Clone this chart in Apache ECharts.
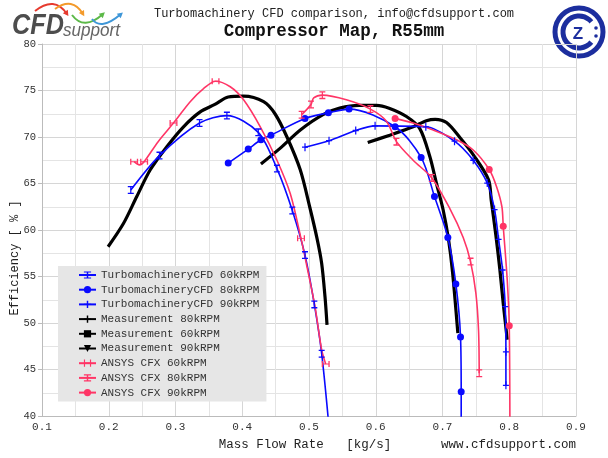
<!DOCTYPE html>
<html><head><meta charset="utf-8">
<script src="https://cdn.jsdelivr.net/npm/echarts@6/dist/echarts.min.js"></script>
<style>html,body{margin:0;padding:0;background:#fff}#c{width:608px;height:458px}</style>
</head><body><div id="c"></div>
<script>
// ---- Data ----
const xTickLabels = ['0.1','0.2','0.3','0.4','0.5','0.6','0.7','0.8','0.9'];
const yTickLabels = ['40','45','50','55','60','65','70','75','80'];

const cfd60X = [0.233,0.276,0.336,0.377,0.424,0.452,0.475,0.494,0.508,0.519,0.531];
const cfd60Y = [64.3,68.0,71.5,72.3,70.5,66.6,62.1,57.3,52.0,46.7,38.0];
const cfd60M = [1,1,1,1,1,1,1,1,1,1,0];

const cfd80X = [0.379,0.409,0.428,0.443,0.494,0.529,0.560,0.629,0.668,0.688,0.708,0.720,0.727,0.728,0.728];
const cfd80Y = [67.2,68.7,69.7,70.2,72.0,72.6,73.0,71.1,67.8,63.6,59.2,54.2,48.5,42.6,38.0];
const cfd80M = [1,1,1,1,1,1,1,1,1,1,1,1,1,1,0];

const cfd90X = [0.494,0.530,0.570,0.599,0.675,0.718,0.746,0.767,0.778,0.784,0.790,0.794,0.795,0.795];
const cfd90Y = [68.9,69.6,70.7,71.2,71.1,69.55,67.5,65.05,62.2,59.0,55.7,51.75,46.9,43.3];

const meas80X = [0.199,0.222,0.242,0.262,0.287,0.312,0.337,0.359,0.379,0.402,0.432,0.449,0.467,0.487,0.501,0.512,0.519,0.524,0.527];
const meas80Y = [58.2,60.7,63.6,66.45,68.96,71.1,72.7,73.5,74.3,74.4,73.8,72.5,70.0,66.45,62.5,59.1,56.4,52.8,49.8];

const meas60X = [0.428,0.457,0.487,0.521,0.546,0.575,0.601,0.620,0.646,0.666,0.681,0.691,0.701,0.709,0.715,0.723];
const meas60Y = [67.1,68.8,70.75,72.4,73.1,73.4,73.4,73.1,72.2,70.9,67.9,65.0,62.15,59.0,55.5,48.9];

const meas90X = [0.588,0.621,0.656,0.676,0.689,0.706,0.726,0.747,0.769,0.773,0.780,0.786,0.791,0.797];
const meas90Y = [69.4,70.2,71.1,71.75,71.9,71.55,69.95,68.0,65.4,63.2,59.4,55.7,52.1,48.2];

const cfx60X = [0.238,0.246,0.253,0.274,0.297,0.322,0.342,0.360,0.382,0.402,0.427,0.452,0.472,0.488,0.497,0.509,0.519,0.525];
const cfx60Y = [67.35,67.0,67.35,69.5,71.5,73.8,75.2,76.0,75.4,74.0,71.1,67.5,63.9,59.1,56.05,51.75,47.1,45.6];
const cfx60M = [1,0,1,0,1,0,0,1,0,0,0,0,0,1,0,0,0,1];

const cfx80X = [0.489,0.503,0.507,0.520,0.556,0.592,0.616,0.631,0.656,0.684,0.711,0.731,0.742,0.750,0.754,0.755];
const cfx80Y = [72.4,73.5,74.2,74.5,74.0,73.0,71.7,69.5,67.5,65.6,62.3,59.2,56.6,53.2,49.2,44.6];
const cfx80M = [1,1,0,1,0,1,0,1,0,1,0,0,1,0,0,1];

const cfx90X = [0.629,0.656,0.686,0.721,0.746,0.770,0.781,0.789,0.791,0.797,0.800,0.801];
const cfx90Y = [72.0,71.5,70.75,69.7,68.6,66.5,64.65,62.5,60.4,54.6,49.7,38.0];
const cfx90M = [1,0,0,0,0,1,0,0,1,0,1,0];

const seriesNames = [
  'TurbomachineryCFD 60kRPM','TurbomachineryCFD 80kRPM','TurbomachineryCFD 90kRPM',
  'Measurement 80kRPM','Measurement 60kRPM','Measurement 90kRPM',
  'ANSYS CFX 60kRPM','ANSYS CFX 80kRPM','ANSYS CFX 90kRPM'
];

// ---- Styling ----
const MONO = '"Liberation Mono","DejaVu Sans Mono",monospace';
const BLUE = '#0a0aff', RED = '#ff3566', BLACK = '#000000';
const symI = 'path://M0,0H8V1.6H4.8V8.4H8V10H0V8.4H3.2V1.6H0Z';
const symH = 'path://M0,0H1.6V4.2H8.4V0H10V10H8.4V5.8H1.6V10H0Z';
const symPlus = 'path://M4,0H6V10H4Z M0,4.2H10V5.8H0Z';
const symCross = 'path://M4,0H6V4H10V6H6V10H4V6H0V4H4Z';

function pts(xs, ys, ms) {
  return xs.map((x, i) => (ms && !ms[i]) ? { value: [x, ys[i]], symbol: 'none' } : [x, ys[i]]);
}
function ser(name, xs, ys, ms, color, width, symbol, size, extra) {
  return Object.assign({
    name, type: 'line', data: pts(xs, ys, ms), smooth: 0.3,
    symbol, symbolSize: size, showSymbol: true,
    lineStyle: { color, width }, itemStyle: { color },
    emphasis: { disabled: true }, z: 3, animation: false, clip: true
  }, extra || {});
}

const series = [
  ser(seriesNames[0], cfd60X, cfd60Y, cfd60M, BLUE, 1.6, symI, [6, 8]),
  ser(seriesNames[1], cfd80X, cfd80Y, cfd80M, BLUE, 1.6, 'circle', 7),
  ser(seriesNames[2], cfd90X, cfd90Y, null, BLUE, 1.6, symPlus, [6, 8]),
  ser(seriesNames[3], meas80X, meas80Y, null, BLACK, 3.2, symCross, 6, { showSymbol: false, z: 2 }),
  ser(seriesNames[4], meas60X, meas60Y, null, BLACK, 3.2, 'rect', 6, { showSymbol: false, z: 2 }),
  ser(seriesNames[5], meas90X, meas90Y, null, BLACK, 3.2, 'triangle', 6, { showSymbol: false, z: 2, symbolRotate: 180 }),
  ser(seriesNames[6], cfx60X, cfx60Y, cfx60M, RED, 1.6, symH, [8, 6]),
  ser(seriesNames[7], cfx80X, cfx80Y, cfx80M, RED, 1.6, symI, [6, 8]),
  ser(seriesNames[8], cfx90X, cfx90Y, cfx90M, RED, 1.6, 'circle', 7)
];

// ---- decorative logo helpers (graphic) ----
function arrow(p1, cp, p2, color) {
  const dx = p2[0] - cp[0], dy = p2[1] - cp[1];
  const L = Math.hypot(dx, dy), ux = dx / L, uy = dy / L, px = -uy, py = ux;
  const tip = [p2[0] + ux * 2.5, p2[1] + uy * 2.5];
  const b1 = [p2[0] - ux * 3 + px * 3, p2[1] - uy * 3 + py * 3];
  const b2 = [p2[0] - ux * 3 - px * 3, p2[1] - uy * 3 - py * 3];
  return [
    { type: 'bezierCurve', shape: { x1: p1[0], y1: p1[1], x2: p2[0], y2: p2[1], cpx1: cp[0], cpy1: cp[1] },
      style: { stroke: color, lineWidth: 2, fill: null } },
    { type: 'polygon', shape: { points: [tip, b1, b2] }, style: { fill: color } }
  ];
}
const LOGO_BLUE = '#1c2e9e';
const graphics = [].concat(
  arrow([35, 11], [54.5, -4.5], [67, 14], '#e63a2e'),
  arrow([55, 9], [72.5, -3.5], [83, 14], '#f39a2b'),
  arrow([72, 15], [84, 31], [103, 14], '#5cb948'),
  arrow([92, 19], [101, 31], [121, 14], '#3f97d8'),
  [
    { type: 'text', x: 12, y: 40, scaleX: 0.87,
      style: { text: 'CFD', font: 'italic bold 29px "Liberation Sans", Arial, sans-serif', fill: '#4d4d4d', verticalAlign: 'bottom' } },
    { type: 'text', x: 63, y: 40, scaleX: 0.95,
      style: { text: 'support', font: 'italic 18px "Liberation Sans", Arial, sans-serif', fill: '#666666', verticalAlign: 'bottom' } },
    { type: 'text', x: 334, y: 14,
      style: { text: 'Turbomachinery CFD comparison, info@cfdsupport.com', font: '12px ' + MONO, fill: '#222', align: 'center', verticalAlign: 'middle' } },
    { type: 'text', x: 334, y: 32,
      style: { text: 'Compressor Map, R55mm', font: 'bold 17.5px ' + MONO, fill: '#111', align: 'center', verticalAlign: 'middle' } },
    { type: 'text', x: 305, y: 445,
      style: { text: 'Mass Flow Rate   [kg/s]', font: '12.5px ' + MONO, fill: '#222', align: 'center', verticalAlign: 'middle' } },
    { type: 'text', x: 576, y: 445,
      style: { text: 'www.cfdsupport.com', font: '12.5px ' + MONO, fill: '#222', align: 'right', verticalAlign: 'middle' } },
    { type: 'text', x: 15, y: 258, rotation: Math.PI / 2,
      style: { text: 'Efficiency [ % ]', font: '12px ' + MONO, fill: '#222', align: 'center', verticalAlign: 'middle' } },
    // right logo
    { type: 'circle', shape: { cx: 579, cy: 32, r: 24 }, style: { fill: '#fff', stroke: LOGO_BLUE, lineWidth: 5 } },
    { type: 'arc', shape: { cx: 579, cy: 32, r: 16, startAngle: Math.PI * 0.22, endAngle: Math.PI * 1.78 },
      style: { stroke: LOGO_BLUE, lineWidth: 5, fill: null } },
    { type: 'text', x: 578, y: 34,
      style: { text: 'Z', font: 'bold 17px "Liberation Sans", Arial, sans-serif', fill: LOGO_BLUE, align: 'center', verticalAlign: 'middle' } },
    { type: 'text', x: 579, y: 14,
      style: { text: 'ˇ', font: 'bold 14px "Liberation Sans", Arial, sans-serif', fill: LOGO_BLUE, align: 'center', verticalAlign: 'middle' } },
    { type: 'circle', shape: { cx: 596, cy: 28, r: 1.8 }, style: { fill: LOGO_BLUE } },
    { type: 'circle', shape: { cx: 596, cy: 36, r: 1.8 }, style: { fill: LOGO_BLUE } }
  ]
);

const chart = echarts.init(document.getElementById('c'), null, { renderer: 'canvas' });
chart.setOption({
  animation: false,
  backgroundColor: '#ffffff',
  grid: { left: 42, right: 32, top: 44, bottom: 42, containLabel: false },
  xAxis: {
    type: 'value', min: 0.1, max: 0.9, interval: 0.1,
    axisLine: { lineStyle: { color: '#bbbbbb' } },
    axisTick: { show: false },
    axisLabel: { fontFamily: MONO, fontSize: 11, color: '#333', margin: 6,
      formatter: v => xTickLabels[Math.round((v - 0.1) * 10)] || '' },
    splitLine: { lineStyle: { color: '#d6d6d6', width: 1 } },
    minorTick: { show: false, splitNumber: 2 },
    minorSplitLine: { show: true, lineStyle: { color: '#e4e4e4', width: 1 } }
  },
  yAxis: {
    type: 'value', min: 40, max: 80, interval: 5,
    axisLine: { show: true, lineStyle: { color: '#bbbbbb' } },
    axisTick: { show: true, length: 4, lineStyle: { color: '#bbbbbb' } },
    axisLabel: { fontFamily: MONO, fontSize: 10.5, color: '#333', margin: 6,
      formatter: v => yTickLabels[Math.round((v - 40) / 5)] || '' },
    splitLine: { lineStyle: { color: '#d6d6d6', width: 1 } },
    minorTick: { show: false, splitNumber: 2 },
    minorSplitLine: { show: true, lineStyle: { color: '#e4e4e4', width: 1 } }
  },
  legend: {
    orient: 'vertical', left: 58, top: 266, padding: [3, 7, 3, 20],
    itemWidth: 17, itemHeight: 9, itemGap: 2.7,
    backgroundColor: '#e6e6e6', selectedMode: false,
    textStyle: { fontFamily: MONO, fontSize: 11, color: '#333', lineHeight: 12 },
    data: seriesNames
  },
  graphic: graphics,
  series: series
});
</script>
</body></html>
